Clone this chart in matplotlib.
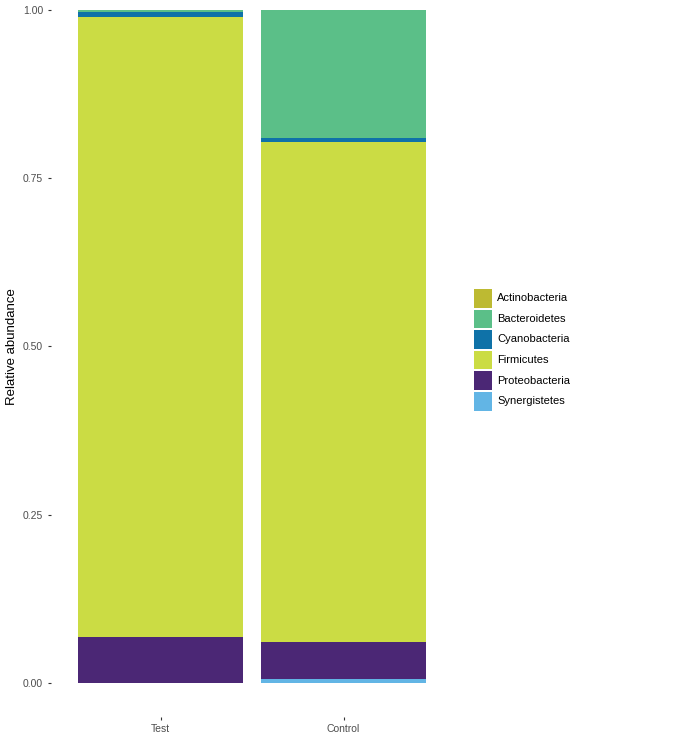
import matplotlib
matplotlib.use("Agg")
import matplotlib.pyplot as plt
from matplotlib.patches import Rectangle
import numpy as np

plt.rcParams['font.family'] = ['Liberation Sans', 'DejaVu Sans']

samples = ["Test", "Control"]
phyla = ["Actinobacteria", "Bacteroidetes", "Cyanobacteria", "Firmicutes", "Proteobacteria", "Synergistetes"]
colors = ["#BDBA32", "#5BBF88", "#0F72A8", "#CBDC44", "#4B2775", "#62B5E5"]
# values per phylum: [Test, Control]
actinobacteria = [0.000, 0.000]
bacteroidetes = [0.003, 0.190]
cyanobacteria = [0.007, 0.006]
firmicutes = [0.922, 0.743]
proteobacteria = [0.068, 0.055]
synergistetes = [0.000, 0.006]
values = [actinobacteria, bacteroidetes, cyanobacteria, firmicutes, proteobacteria, synergistetes]

W, H = 686, 738
fig = plt.figure(figsize=(W/100, H/100), dpi=100)
left, right = 50.7, 453.3
bottom_px, top_px = 716.6, 0
ax = fig.add_axes([left/W, 1-bottom_px/H, (right-left)/W, (bottom_px-top_px)/H])

x = np.arange(1, len(samples)+1)
bottom = np.zeros(len(samples))
for name, col, v in reversed(list(zip(phyla, colors, values))):
    v = np.array(v)
    ax.bar(x, v, width=0.9, bottom=bottom, color=col, edgecolor='none', linewidth=0)
    bottom += v

ax.set_xlim(0.4, 2.6)
ax.set_ylim(-0.05, 1.0 + 10/673)
ax.set_xticks(x)
ax.set_xticklabels(samples)
ax.set_yticks([0, 0.25, 0.5, 0.75, 1.0])
ax.set_yticklabels(["0.00", "0.25", "0.50", "0.75", "1.00"])
for s in ax.spines.values():
    s.set_visible(False)
ax.tick_params(axis='both', colors='#333333', labelcolor='#4d4d4d', labelsize=7.5, length=2.5, width=0.8, pad=3)
ax.set_ylabel("Relative abundance", fontsize=9.5, color='black')
ax.yaxis.set_label_coords((18 - left) / (right - left), (bottom_px - 346.5) / (bottom_px - top_px))
ax.set_facecolor('white')

# legend drawn in figure pixel coordinates
key_x, key_w, key_h, key_top0, step = 474, 18, 18.5, 289, 20.6
for i, (p, c) in enumerate(zip(phyla, colors)):
    top = key_top0 + step * i
    fig.add_artist(Rectangle((key_x / W, 1 - (top + key_h) / H), key_w / W, key_h / H,
                             facecolor=c, edgecolor='none', transform=fig.transFigure))
    fig.text(497 / W, 1 - (top + key_h / 2) / H, p, fontsize=8, color='black',
             ha='left', va='center')

fig.savefig("out.png", dpi=100, facecolor='white')
